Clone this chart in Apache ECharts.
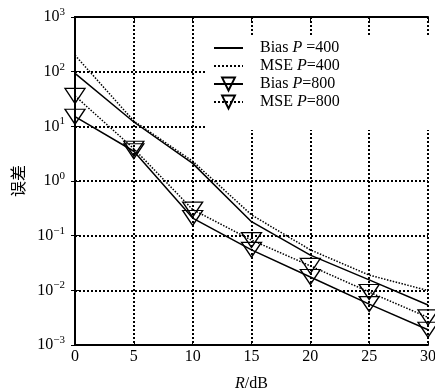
<!DOCTYPE html>
<html>
<head>
<meta charset="utf-8">
<script src="https://cdn.jsdelivr.net/npm/echarts@6/dist/echarts.min.js"></script>
<style>
  html, body { margin: 0; padding: 0; background: #fff; }
  #chart { width: 435px; height: 392px; }
</style>
</head>
<body>
<div id="chart"></div>
<script>
// R / dB
const snr = [0, 5, 10, 15, 20, 25, 30];
const biasP400 = [93, 12, 2.1, 0.18, 0.044, 0.0155, 0.0054];
const mseP400 = [200, 12.5, 2.3, 0.24, 0.055, 0.019, 0.0099];
const biasP800 = [15, 3.5, 0.21, 0.055, 0.0175, 0.0056, 0.0019];
const mseP800 = [36, 3.9, 0.3, 0.083, 0.028, 0.0093, 0.0032];
const seriesNames = ["Bias P =400", "MSE P=400", "Bias P=800", "MSE P=800"];

const serif = "'Liberation Serif', 'Times New Roman', serif";
const downTri = "path://M0,0L20,0L10,15Z";

const chart = echarts.init(document.getElementById("chart"));

function pairs(ys) {
  return snr.map((x, i) => [x, ys[i]]);
}

function mkSeries(name, ys, dotted, marker) {
  return {
    name: name,
    type: "line",
    data: pairs(ys),
    symbol: marker ? downTri : "circle",
    symbolSize: marker ? [20, 15] : 1,
    showSymbol: marker,
    lineStyle: { color: "#000", width: 1.5, type: dotted ? "dotted" : "solid" },
    itemStyle: {
      color: "transparent",
      borderColor: marker ? "#000" : "transparent",
      borderWidth: 1.3,
    },
    emphasis: { disabled: true },
    z: 3,
  };
}

const ticks = {
  show: true,
  inside: true,
  length: 4,
  lineStyle: { color: "#000", width: 1 },
};

chart.setOption({
  animation: false,
  grid: { left: 75, right: 7, top: 17, bottom: 47, outerBoundsMode: "none" },
  legend: {
    orient: "vertical",
    left: 207,
    top: 36,
    padding: [4, 93, 20, 6],
    backgroundColor: "#fff",
    itemWidth: 29,
    itemHeight: 16,
    itemGap: 2,
    data: seriesNames,
    formatter: (n) => n.replace("P", "{i|P}"),
    textStyle: {
      fontFamily: serif,
      fontSize: 16,
      color: "#000",
      padding: [0, 0, 0, 12],
      rich: { i: { fontFamily: serif, fontSize: 16, fontStyle: "italic", color: "#000" } },
    },
    z: 10,
  },
  xAxis: [
    {
      type: "value",
      min: 0,
      max: 30,
      interval: 5,
      name: "{i|R}/dB",
      nameLocation: "middle",
      nameGap: 31,
      nameTextStyle: {
        fontFamily: serif,
        fontSize: 16,
        color: "#000",
        rich: { i: { fontFamily: serif, fontSize: 16, fontStyle: "italic", color: "#000" } },
      },
      axisLine: { lineStyle: { color: "#000", width: 2 } },
      axisTick: ticks,
      axisLabel: { fontFamily: serif, fontSize: 16, color: "#000", margin: 4 },
      splitLine: { show: true, lineStyle: { color: "#000", type: "dotted", width: 2 } },
    },
    {
      type: "value",
      position: "top",
      min: 0,
      max: 30,
      interval: 5,
      axisLine: { show: true, lineStyle: { color: "#000", width: 2 } },
      axisTick: ticks,
      axisLabel: { show: false },
      splitLine: { show: false },
    },
  ],
  yAxis: [
    {
      type: "log",
      logBase: 10,
      min: 0.001,
      max: 1000,
      name: "误差",
      nameLocation: "middle",
      nameRotate: 90,
      nameGap: 45,
      nameTextStyle: { fontFamily: "'Noto Sans CJK SC'", fontSize: 16, color: "#000" },
      axisLine: { show: true, lineStyle: { color: "#000", width: 2 } },
      axisTick: ticks,
      axisLabel: {
        fontFamily: serif,
        fontSize: 16,
        color: "#000",
        margin: 10,
        formatter: (v) => {
          const e = Math.round(Math.log10(v));
          return "10{s|" + (e < 0 ? "\u2212" + -e : e) + "}";
        },
        rich: { s: { fontFamily: serif, fontSize: 11, color: "#000", verticalAlign: "top", padding: [0, 0, 10, 0] } },
      },
      splitLine: { show: true, lineStyle: { color: "#000", type: "dotted", width: 2 } },
    },
    {
      type: "log",
      logBase: 10,
      position: "right",
      min: 0.001,
      max: 1000,
      axisLine: { show: true, lineStyle: { color: "#000", width: 2 } },
      axisTick: ticks,
      axisLabel: { show: false },
      splitLine: { show: false },
    },
  ],
  series: [
    mkSeries(seriesNames[0], biasP400, false, false),
    mkSeries(seriesNames[1], mseP400, true, false),
    mkSeries(seriesNames[2], biasP800, false, true),
    mkSeries(seriesNames[3], mseP800, true, true),
  ],
});
</script>
</body>
</html>
